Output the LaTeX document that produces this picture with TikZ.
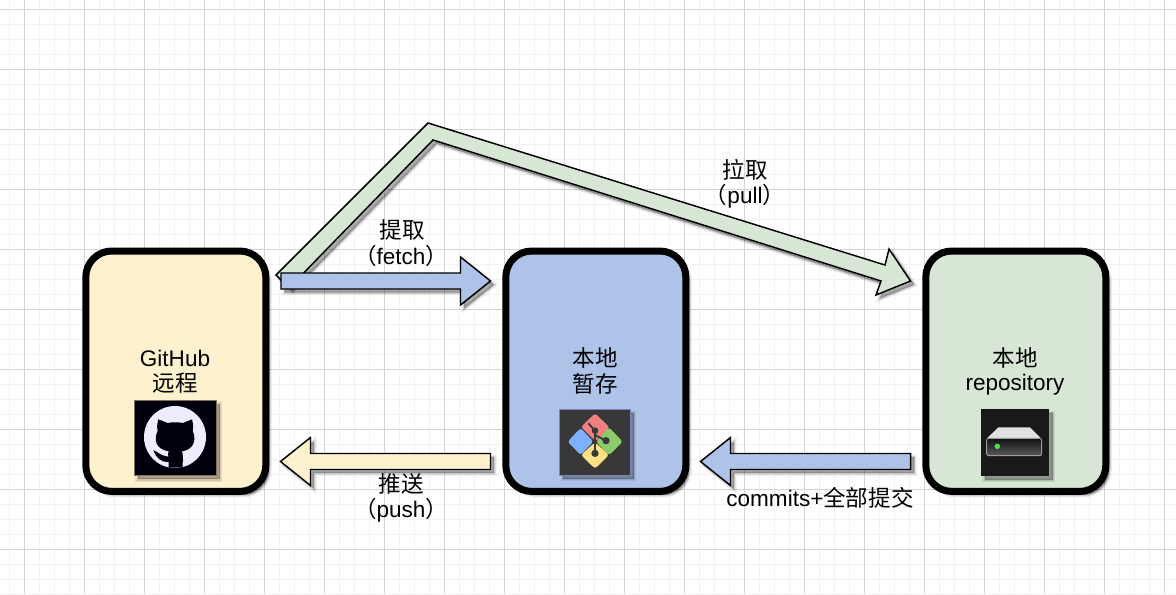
\documentclass[tikz,border=0pt]{standalone}
\usepackage{fontspec}
\setmainfont{Liberation Sans}
\newfontfamily\cjk{Noto Sans CJK SC}
\usetikzlibrary{calc}
\definecolor{cyellow}{HTML}{FDF1CE}
\definecolor{cblue}{HTML}{AEC3E8}
\definecolor{cgreen}{HTML}{D7E6D5}
\tikzset{
  softshadow/.style={
    preaction={draw=black,line width=3.5pt,fill=black,opacity=.07,transform canvas={shift={(2.8pt,-2.8pt)}}},
    preaction={draw=black,line width=1.8pt,fill=black,opacity=.11,transform canvas={shift={(2.8pt,-2.8pt)}}},
    preaction={fill=black,opacity=.17,transform canvas={shift={(2.8pt,-2.8pt)}}}},
  card/.style={draw=black,line width=5.25pt,rounded corners=19.5pt,minimum width=135pt,minimum height=180.3pt,outer sep=0pt,inner sep=0pt,softshadow},
  blockarrow/.style={draw=black,line width=1.1pt,miter limit=10,softshadow},
  label/.style={font=\fontsize{16.9pt}{20pt}\selectfont,inner sep=0pt},
  minorgrid/.style={draw=black!5,line width=.9pt},
  majorgrid/.style={draw=black!17,line width=.75pt},
  icon/.style={softshadow},
}
\newcommand{\hblock}[4]{%
  \draw[blockarrow,fill=#1] ($(#2)+(0,-8)$) -- ($(#3)+(-30*#4,-8)$) -- ($(#3)+(-30*#4,-24)$) -- (#3)
    -- ($(#3)+(-30*#4,24)$) -- ($(#3)+(-30*#4,8)$) -- ($(#2)+(0,8)$) -- cycle;}
\begin{document}
\begin{tikzpicture}[x=.75pt,y=-.75pt]
\useasboundingbox (0,0) rectangle (1176,594);
\fill[white] (0,0) rectangle (1176,594);
% grid
\foreach \i in {0,...,78} {\draw[minorgrid] ({9.5+15*\i},0) -- ({9.5+15*\i},594);}
\foreach \i in {0,...,39} {\draw[minorgrid] (0,{9.5+15*\i}) -- (1176,{9.5+15*\i});}
\foreach \i in {0,...,19} {\draw[majorgrid] ({24.5+60*\i},0) -- ({24.5+60*\i},594);}
\foreach \i in {0,...,9} {\draw[majorgrid] (0,{9.5+60*\i}) -- (1176,{9.5+60*\i});}
% cards
\node[card,fill=cyellow] (github) at (175.8,371.2) {};
\node[card,fill=cblue] (local) at (595.8,371.2) {};
\node[card,fill=cgreen] (repo) at (1015.8,371.2) {};
% labels
\node[label] (t1) at (175,358) {GitHub};
\node[label] (t2) at (175,383.5) {\cjk 远程};
\node[label] (t3) at (595,357.5) {\cjk 本地};
\node[label] (t4) at (595,383.5) {\cjk 暂存};
\node[label] (t5) at (1015,357.5) {\cjk 本地};
\node[label] (t6) at (1015,385) {repository};
\node[label] (t7) at (402,229.5) {\cjk 提取};
\node[label] (t8) at (401,256) {{\cjk （}fetch{\cjk ）}};
\node[label] (t9) at (745,169.5) {\cjk 拉取};
\node[label] (t10) at (745,196) {{\cjk （}pull{\cjk ）}};
\node[label] (t11) at (401,483.5) {\cjk 推送};
\node[label] (t12) at (401,510) {{\cjk （}push{\cjk ）}};
\node[label] (t13) at (820,498) {commits+{\cjk 全部提交}};
% pull arrow (bent block arrow)
\coordinate (pullS) at ($(github.east)+(10.2,-96.2)$);
\coordinate (pullT) at ($(repo.west)+(-15.3,-90.2)$);
\draw[blockarrow,fill=cgreen,line join=miter] (pullS) -- (428,123) -- (885,265) -- (889,249) -- (pullT)
  -- (876,295) -- (881,281) -- (433,140) -- ($(pullS)+(13,13)$) -- cycle;
% straight block arrows
\coordinate (fetchS) at ($(github.east)+(15.2,-90.2)$);
\coordinate (fetchT) at ($(local.west)+(-15.3,-90.2)$);
\hblock{cblue}{fetchS}{fetchT}{1}
\coordinate (commitS) at ($(repo.west)+(-15.3,90.3)$);
\coordinate (commitT) at ($(local.east)+(14.7,90.3)$);
\hblock{cblue}{commitS}{commitT}{-1}
\coordinate (pushS) at ($(local.west)+(-15.3,90.3)$);
\coordinate (pushT) at ($(github.east)+(14.7,90.3)$);
\hblock{cyellow}{pushS}{pushT}{-1}
% GitHub icon (zoom coordinates: origin 120,390, scale 1/3)
\begin{scope}[shift={(120,390)},x=.25pt,y=-.25pt]
  \path[icon,fill=black] (42,30) rectangle (288,257);
  \fill[black!95!blue] (42,30) rectangle (288,257);
  \draw[black!60!brown!70!white,line width=.5pt] (42,30) rectangle (288,257);
  \fill[white!93!blue] (165,141) circle (93);
  \fill[black!95!blue] (115,88) -- (143,99) .. controls (155,96) and (177,96) .. (188,99) -- (216,88)
     .. controls (219,100) and (221,112) .. (218,122) .. controls (230,150) and (222,178) .. (186,184)
     .. controls (190,195) and (188,205) .. (188,233) -- (146,233)
     -- (146,216) .. controls (125,218) and (110,205) .. (100,181) .. controls (110,182) and (115,195) .. (145,200)
     .. controls (145,192) and (143,188) .. (146,184) .. controls (108,178) and (100,150) .. (113,122)
     .. controls (110,112) and (112,100) .. (115,88) -- cycle;
\end{scope}
% Git icon (origin 545,400)
\begin{scope}[shift={(545,400)},x=.25pt,y=-.25pt]
  \path[icon,fill=black] (43,28) rectangle (256,226);
  \fill[black!78] (43,28) rectangle (256,226);
  \draw[black!50!blue!50!white,line width=.4pt] (43,28) rectangle (256,226);
  \fill[rounded corners=2pt,fill={rgb,255:red,127;green,176;blue,255}] (68,125) -- (107,84) -- (145,125) -- (107,165) -- cycle;
  \fill[rounded corners=2pt,fill={rgb,255:red,240;green,128;blue,128}] (108,81) -- (150,40) -- (194,82) -- (152,124) -- cycle;
  \fill[rounded corners=2pt,fill={rgb,255:red,140;green,203;blue,106}] (192,82) -- (233,125) -- (192,166) -- (153,125) -- cycle;
  \fill[rounded corners=2pt,fill={rgb,255:red,255;green,224;blue,130}] (150,127) -- (192,165) -- (150,206) -- (108,165) -- cycle;
  \draw[black!78,line width=1.4pt] (130,70) -- (150,92) -- (150,160);
  \draw[black!78,line width=1.4pt] (150,105) -- (183,122);
  \fill[black!78] (150,160) circle (11) (183,122) circle (11) (150,92) circle (10);
\end{scope}
% Server icon (origin 965,400)
\begin{scope}[shift={(965,400)},x=.25pt,y=-.25pt]
  \path[icon,fill=black] (48,28) rectangle (252,228);
  \fill[black!90] (48,28) rectangle (252,228);
  \fill[black!12] (100,82) -- (195,82) -- (228,115) -- (66,115) -- cycle;
  \shade[top color=black!93,bottom color=black!65,draw=black!40,line width=.7pt,rounded corners=1.5pt] (65,115) rectangle (230,167);
  \fill[green!75!black!60!white] (97,139) circle (8);
  \fill[green!90!white] (97,139) circle (5);
\end{scope}
\end{tikzpicture}
\end{document}
